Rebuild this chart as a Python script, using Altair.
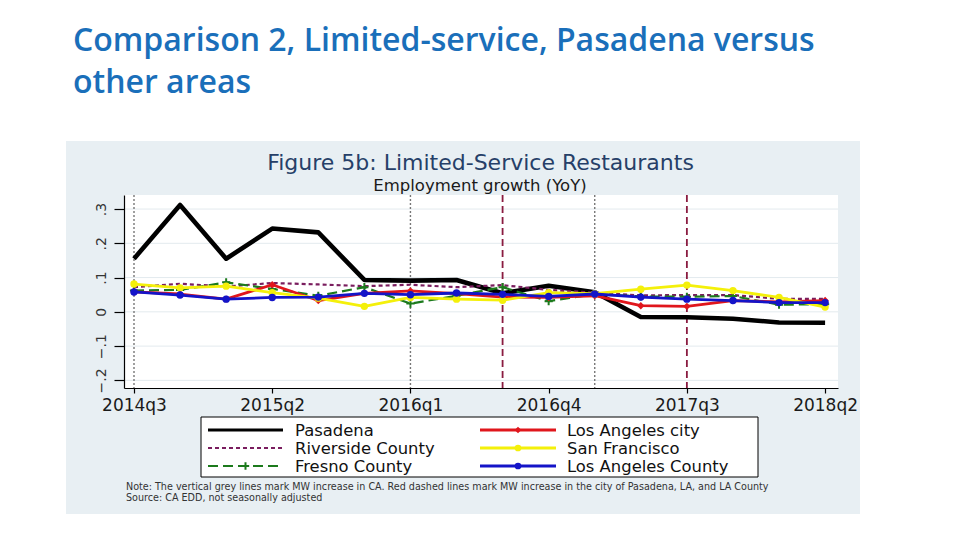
import altair as alt
import pandas as pd

# ---------------- data ----------------
quarters = ["2014q3", "2014q4", "2015q1", "2015q2", "2015q3", "2015q4",
            "2016q1", "2016q2", "2016q3", "2016q4", "2017q1", "2017q2",
            "2017q3", "2017q4", "2018q1", "2018q2"]
x_tick_quarters = ["2014q3", "2015q2", "2016q1", "2016q4", "2017q3", "2018q2"]
y_ticks = [-0.2, -0.1, 0.0, 0.1, 0.2, 0.3]

series_names = ["Pasadena", "Riverside County", "Fresno County",
                "Los Angeles city", "San Francisco", "Los Angeles County"]

pasadena = [0.155, 0.312, 0.155, 0.243, 0.232, 0.093, 0.091, 0.093,
            0.054, 0.076, 0.057, -0.015, -0.016, -0.020, -0.031, -0.032]
riverside = [0.072, 0.082, 0.074, 0.084, 0.080, 0.075, 0.079, 0.072,
             0.078, 0.064, 0.056, 0.048, 0.049, 0.049, 0.038, 0.038]
fresno = [0.062, 0.064, 0.086, 0.067, 0.047, 0.072, 0.024, 0.047,
          0.072, 0.031, 0.052, 0.045, 0.044, 0.046, 0.021, 0.022]
la_city = [0.058, 0.052, 0.037, 0.079, 0.033, 0.054, 0.061, 0.053,
           0.043, 0.042, 0.047, 0.018, 0.016, 0.033, 0.029, 0.033]
san_francisco = [0.081, 0.070, 0.075, 0.056, 0.040, 0.016, 0.042, 0.037,
                 0.034, 0.056, 0.053, 0.066, 0.078, 0.062, 0.042, 0.014]
la_county = [0.058, 0.049, 0.037, 0.042, 0.043, 0.054, 0.050, 0.055,
             0.051, 0.045, 0.052, 0.043, 0.037, 0.033, 0.027, 0.027]
series_values = [pasadena, riverside, fresno, la_city, san_francisco, la_county]

mw_ca_quarters = ["2014q3", "2016q1", "2017q1"]      # grey dotted lines
mw_local_quarters = ["2016q3", "2017q3"]             # red dashed lines

slide_title = ["Comparison 2, Limited-service, Pasadena versus", "other areas"]
fig_title = "Figure 5b: Limited-Service Restaurants"
fig_subtitle = "Employment growth (YoY)"
note_lines = [
    "Note: The vertical grey lines mark MW increase in CA. Red dashed lines mark MW increase in the city of Pasadena, LA, and LA County",
    "Source: CA EDD, not seasonally adjusted",
]

# ---------------- styles ----------------
styles = {
    "Pasadena": dict(color="#000000", width=4.6, dash=None, marker=None),
    "Riverside County": dict(color="#7a1d5e", width=2.2, dash=[4, 3], marker=None),
    "Fresno County": dict(color="#1c7a1c", width=2.2, dash=[10, 5], marker="plus"),
    "Los Angeles city": dict(color="#e0161c", width=2.8, dash=None, marker="diamond"),
    "San Francisco": dict(color="#f4f00a", width=2.8, dash=None, marker="circle"),
    "Los Angeles County": dict(color="#1414c8", width=2.8, dash=None, marker="circle"),
}
draw_order = ["Pasadena", "Riverside County", "Fresno County",
              "Los Angeles city", "San Francisco", "Los Angeles County"]

W, H = 714, 193
PAD = dict(left=116, top=187, right=114, bottom=144)
FONT = "DejaVu Sans"

rows = []
for name, vals in zip(series_names, series_values):
    for i, (q, v) in enumerate(zip(quarters, vals)):
        rows.append({"quarter": q, "t": i, "series": name, "value": v})
df = pd.DataFrame(rows)

xscale = alt.Scale(domain=[-0.217, 15.28], nice=False, zero=False)
yscale = alt.Scale(domain=[-0.2223, 0.341], nice=False, zero=False)

label_expr = "[" + ",".join("'%s'" % q for q in quarters) + "][datum.value]"
xaxis = alt.Axis(values=[quarters.index(q) for q in x_tick_quarters],
                 labelExpr=label_expr, grid=False, title=None,
                 domainColor="black", domainWidth=1.2, tickColor="black",
                 tickSize=5, tickWidth=1.2, labelFont=FONT, labelFontSize=17,
                 labelColor="#1a1a1a", labelPadding=4, labelFlush=False,
                 labelOverlap=False, zindex=2)
yaxis = alt.Axis(values=y_ticks, grid=False, title=None,
                 labelExpr="datum.value == 0 ? '0' : replace(format(datum.value, '.1f'), '0.', '.')",
                 labelAngle=270, labelAlign="center", labelBaseline="bottom",
                 domainColor="black", domainWidth=1.2, tickColor="black",
                 tickSize=10, tickWidth=1.2, labelFont=FONT, labelFontSize=14,
                 labelColor="#333333", labelPadding=6, zindex=2)

X = alt.X("t:Q", scale=xscale, axis=xaxis)
Y = alt.Y("value:Q", scale=yscale, axis=yaxis)

one = alt.Data(values=[{}])

layers = []
# stata graph region background
layers.append(alt.Chart(one).mark_rect(color="#e8eff3").encode(
    x=alt.value(-58), x2=alt.value(736), y=alt.value(-54), y2=alt.value(319)))
# plot region
layers.append(alt.Chart(one).mark_rect(color="white").encode(
    x=alt.value(0), x2=alt.value(W), y=alt.value(0), y2=alt.value(H)))
# gridlines
grid_df = pd.DataFrame({"value": y_ticks})
layers.append(alt.Chart(grid_df).mark_rule(color="#e3eaee", strokeWidth=1).encode(y=Y))

# vertical reference lines
vl_ca = pd.DataFrame({"quarter": mw_ca_quarters,
                      "t": [quarters.index(q) for q in mw_ca_quarters]})
vl_loc = pd.DataFrame({"quarter": mw_local_quarters,
                       "t": [quarters.index(q) for q in mw_local_quarters]})
layers.append(alt.Chart(vl_ca).mark_rule(color="#777777", strokeWidth=1.4,
                                          strokeDash=[2, 2]).encode(
    x=X, y=alt.value(0), y2=alt.value(H)))
layers.append(alt.Chart(vl_loc).mark_rule(color="#8a1c40", strokeWidth=1.8,
                                           strokeDash=[7, 4]).encode(
    x=X, y=alt.value(0), y2=alt.value(H)))

PLUS = "M-1,0L1,0M0,-1L0,1"


def marker_mark(st, size):
    if st["marker"] == "plus":
        return dict(shape=PLUS, filled=False, stroke=st["color"], strokeWidth=2,
                    size=size * 1.2, opacity=1)
    return dict(shape=st["marker"], filled=True, color=st["color"], size=size, opacity=1)


for name in draw_order:
    st = styles[name]
    base = alt.Chart(df).transform_filter(alt.datum.series == name)
    kw = dict(color=st["color"], strokeWidth=st["width"], strokeJoin="round")
    if st["dash"]:
        kw["strokeDash"] = st["dash"]
    layers.append(base.mark_line(**kw).encode(x=X, y=Y))
    if st["marker"]:
        layers.append(base.mark_point(**marker_mark(st, 55)).encode(x=X, y=Y))

# ---------------- text ----------------
def text_layer(txt, x, y, size, color, font=FONT, align="left", baseline="alphabetic", weight="normal"):
    return alt.Chart(one).mark_text(text=txt, font=font, fontSize=size, color=color,
                                    align=align, baseline=baseline, fontWeight=weight).encode(
        x=alt.value(x), y=alt.value(y))

layers.append(text_layer(slide_title[0], -51, -144, 32, "#1a6fba", font="Open Sans", weight=600))
layers.append(text_layer(slide_title[1], -51, -102.5, 32, "#1a6fba", font="Open Sans", weight=600))
layers.append(text_layer(fig_title, 356.5, -25, 22, "#263f68", align="center"))
layers.append(text_layer(fig_subtitle, 356, -4, 16.5, "#1a1a1a", align="center"))
layers.append(text_layer(note_lines[0], 2, 295, 9.6, "#333333"))
layers.append(text_layer(note_lines[1], 2, 305.5, 9.6, "#333333"))

# ---------------- legend (manual, Stata style) ----------------
layers.append(alt.Chart(one).mark_rect(fill="white", stroke="black", strokeWidth=1).encode(
    x=alt.value(77), x2=alt.value(634), y=alt.value(222), y2=alt.value(282)))
legend_cols = [(84, 159, 171), (356, 432, 443)]
legend_rows = [235, 253, 271]
for k, name in enumerate(series_names):
    st = styles[name]
    c0, c1, tx = legend_cols[k // 3]
    ry = legend_rows[k % 3]
    kw = dict(color=st["color"], strokeWidth=min(st["width"], 3.2))
    if st["dash"]:
        kw["strokeDash"] = st["dash"]
    layers.append(alt.Chart(one).mark_rule(**kw).encode(
        x=alt.value(c0), x2=alt.value(c1), y=alt.value(ry)))
    if st["marker"]:
        layers.append(alt.Chart(one).mark_point(**marker_mark(st, 45)).encode(
            x=alt.value((c0 + c1) / 2), y=alt.value(ry)))
    layers.append(text_layer(name, tx, ry + 1, 16.4, "#111111", baseline="middle"))

chart = alt.layer(*layers).properties(
    width=W, height=H,
    autosize=alt.AutoSizeParams(type="none"),
    padding=PAD,
    background="white",
).configure_view(strokeWidth=0)

chart.save("out.html", embed_options={"renderer": "svg", "actions": False})
